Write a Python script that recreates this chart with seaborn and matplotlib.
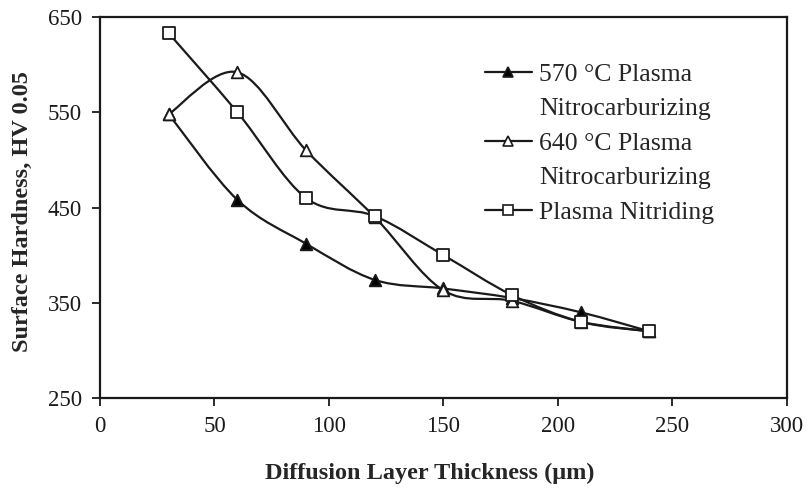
import numpy as np
import pandas as pd
import matplotlib
matplotlib.use('Agg')
import matplotlib.pyplot as plt
from matplotlib.path import Path
from matplotlib.patches import PathPatch
from matplotlib.lines import Line2D
import seaborn as sns

# данные
thickness = [30, 60, 90, 120, 150, 180, 210, 240]
hv_570 = [548, 458, 412, 374, 365, 355, 340, 320]
hv_640 = [548, 592, 510, 440, 363, 352, 330, 320]
hv_nitriding = [633, 550, 460, 441, 400, 358, 330, 320]
labels = ['570 °C Plasma\nNitrocarburizing', '640 °C Plasma\nNitrocarburizing', 'Plasma Nitriding']

df = pd.DataFrame({
    'x': thickness * 3,
    'hv': hv_570 + hv_640 + hv_nitriding,
    'series': sum([[lab] * len(thickness) for lab in labels], []),
})

sns.set_style('ticks')
plt.rcParams['font.family'] = ['Liberation Serif', 'DejaVu Serif']

INK = '#1a1a1a'


def smooth_path(xs, ys):
    # сглаженная линия как в Excel (кривые Безье через точки)
    pts = np.column_stack([xs, ys]).astype(float)
    verts = [pts[0]]
    codes = [Path.MOVETO]
    n = len(pts)
    for i in range(n - 1):
        p0 = pts[i - 1] if i > 0 else pts[i]
        p1, p2 = pts[i], pts[i + 1]
        p3 = pts[i + 2] if i + 2 < n else pts[i + 1]
        verts += [p1 + (p2 - p0) / 6, p2 - (p3 - p1) / 6, p2]
        codes += [Path.CURVE4] * 3
    return Path(verts, codes)


fig = plt.figure(figsize=(8.08, 4.88), dpi=100)
ax = fig.add_axes([0.1238, 0.1844, 0.850, 0.7807])

styles = {
    labels[0]: dict(marker='^', fc='black'),
    labels[1]: dict(marker='^', fc='white'),
    labels[2]: dict(marker='s', fc='white'),
}

# легенда: маркер стоит у первой строки подписи
leg_handles, leg_labels = [], []
for lab in labels:
    sub = df[df['series'] == lab]
    ax.add_patch(PathPatch(smooth_path(sub['x'], sub['hv']), fill=False,
                           edgecolor=INK, lw=1.6, zorder=2))
    st = styles[lab]
    sns.scatterplot(data=sub, x='x', y='hv', ax=ax, marker=st['marker'],
                    color=st['fc'], edgecolor=INK, linewidth=1.3,
                    s=70, zorder=3, legend=False)
    lines = lab.split('\n')
    leg_handles.append(Line2D([], [], color=INK, lw=1.6, marker=st['marker'],
                              markerfacecolor=st['fc'], markeredgecolor=INK,
                              markersize=7.5, markeredgewidth=1.2))
    leg_labels.append(lines[0])
    for extra in lines[1:]:
        leg_handles.append(Line2D([], [], lw=0, alpha=0))
        leg_labels.append(extra)

ax.set_xlim(0, 300)
ax.set_ylim(250, 650)
ax.set_xticks(range(0, 301, 50))
ax.set_yticks(range(250, 651, 100))
for s in ax.spines.values():
    s.set_linewidth(1.6)
    s.set_color(INK)
ax.tick_params(direction='out', length=6, width=1.3, labelsize=16.5,
               colors=INK, pad=7)

ax.set_xlabel('Diffusion Layer Thickness (μm)', fontsize=17.5, fontweight='bold')
ax.set_ylabel('Surface Hardness, HV 0.05', fontsize=17.5, fontweight='bold')
ax.xaxis.set_label_coords(0.48, -0.17)
ax.yaxis.set_label_coords(-0.098, 0.49)

ax.legend(leg_handles, leg_labels, loc='upper left', bbox_to_anchor=(0.56, 0.88),
          frameon=False, fontsize=18.5, handlelength=1.85, handletextpad=0.28,
          labelspacing=0.45, borderpad=0, borderaxespad=0)

fig.savefig('out.png', dpi=100)
